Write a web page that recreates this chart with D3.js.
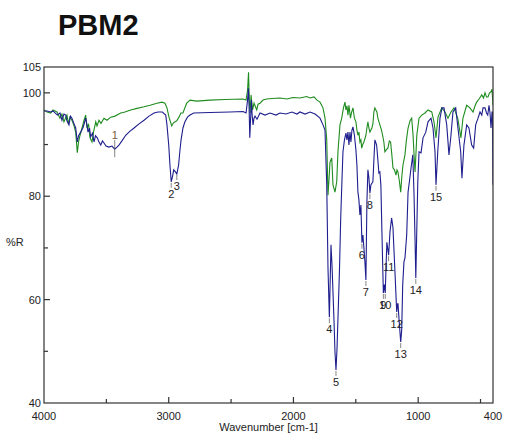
<!DOCTYPE html>
<html>
<head>
<meta charset="utf-8">
<script src="https://cdn.jsdelivr.net/npm/d3@7"></script>
<style>
  html, body { margin: 0; padding: 0; background: #fff; }
  svg { display: block; }
  text { font-family: "Liberation Sans", Arial, sans-serif; }
</style>
</head>
<body>
<svg id="chart" width="505" height="434"></svg>
<script>
// IR spectrum of sample PBM2 (reflectance, %R vs wavenumber)

// Sample spectrum (navy)
const sampleWn = [4000,3976,3946,3928,3893,3872,3856,3840,3826,3816,3800,3788,3776,3759,3746,3733,3723,3706,3685,3666,3657,3647,3635,3626,3611,3599,3587,3573,3559,3545,3531,3519,3503,3479,3455,3433,3415,3399,3375,3345,3310,3278,3238,3198,3158,3118,3086,3051,3024,3014,3000,2990,2980,2969,2960,2946,2935,2921,2910,2901,2886,2870,2850,2829,2800,2669,2509,2404,2380,2368,2361,2356,2350,2344,2337,2331,2324,2316,2308,2292,2268,2228,2188,2140,2108,2060,2012,1972,1948,1907,1867,1827,1787,1763,1747,1733,1723,1712,1707,1699,1691,1685,1675,1667,1659,1651,1643,1631,1621,1611,1603,1591,1579,1571,1563,1555,1547,1539,1531,1523,1511,1499,1491,1483,1475,1467,1459,1451,1443,1435,1427,1419,1411,1403,1395,1387,1379,1371,1363,1355,1347,1333,1323,1315,1307,1299,1291,1285,1279,1271,1264,1259,1251,1237,1226,1213,1202,1194,1186,1172,1166,1162,1154,1140,1132,1124,1114,1106,1092,1081,1069,1057,1043,1033,1025,1019,1011,1003,993,977,961,939,921,897,881,865,857,843,825,809,793,771,753,737,721,699,681,659,649,633,611,593,571,555,539,520,504,490,480,464,452,442,432,424,416,408,404,400];
const sampleR = [96.5,96.5,96.3,96.5,95.7,96.1,94.7,95.9,95.7,94.6,93.8,95.5,95.1,94.0,93.2,90.5,91.7,92.4,93.4,95.1,94.0,92.4,93.2,91.5,92.2,90.5,91.7,91.3,90.5,89.9,90.7,90.3,89.7,89.5,89.7,89.1,89.5,89.9,90.7,91.8,92.6,93.2,94.0,94.7,95.5,96.1,96.3,96.3,95.7,93.8,89.9,86.0,82.8,83.9,85.1,84.7,84.3,86.0,88.9,90.9,93.2,94.4,95.3,95.7,96.1,96.2,96.3,96.4,96.1,98.6,100.9,97.6,91.3,94.7,98.6,95.7,93.8,95.1,95.5,94.9,96.1,95.7,96.1,95.7,96.1,95.9,96.3,95.9,96.3,95.9,96.3,95.9,95.1,93.8,92.8,82.2,66.1,56.6,61.9,70.6,66.7,62.8,56.1,49.9,46.4,50.3,56.4,65.7,75.8,83.1,88.6,90.9,92.2,90.9,92.4,89.9,92.4,90.5,92.8,93.4,91.8,88.9,86.0,80.8,79.3,76.4,78.3,71.0,72.5,70.0,67.3,63.8,78.9,85.1,83.6,80.6,82.2,82.5,82.8,87.0,90.9,89.9,87.0,84.5,84.7,82.2,73.5,67.3,61.3,62.9,61.3,65.3,71.1,68.6,73.1,75.8,73.9,69.6,65.3,57.6,59.0,59.3,56.4,51.8,54.1,62.8,67.3,68.0,72.5,80.8,83.1,85.5,88.0,80.2,71.5,64.2,73.5,82.8,88.6,88.4,91.3,92.4,94.4,95.1,93.2,88.6,82.2,88.6,95.1,97.1,97.1,93.8,88.0,91.8,96.3,97.1,93.2,88.6,83.5,89.9,93.8,93.2,89.9,89.3,93.8,95.1,96.3,95.7,97.1,97.1,96.1,95.7,97.6,96.1,93.2,96.3,96.3,82.2];

// Reference spectrum (green)
const referenceWn = [4000,3976,3946,3928,3896,3872,3856,3840,3828,3816,3804,3792,3776,3759,3746,3733,3723,3711,3695,3679,3666,3655,3643,3631,3615,3603,3585,3575,3559,3543,3519,3495,3465,3431,3385,3351,3305,3254,3198,3150,3094,3054,3030,3014,2998,2976,2962,2936,2918,2902,2886,2856,2829,2776,2669,2549,2404,2380,2368,2360,2354,2348,2340,2328,2316,2294,2284,2268,2244,2214,2172,2108,2052,2004,1948,1894,1867,1835,1811,1787,1763,1747,1733,1723,1715,1707,1693,1683,1667,1653,1643,1627,1613,1599,1587,1579,1571,1563,1555,1543,1533,1523,1511,1499,1491,1483,1475,1467,1459,1453,1443,1435,1419,1411,1403,1395,1387,1371,1363,1355,1347,1339,1331,1323,1307,1294,1285,1275,1267,1255,1243,1231,1221,1211,1202,1190,1178,1170,1162,1150,1140,1130,1122,1106,1094,1081,1065,1052,1041,1033,1025,1017,1011,993,971,945,921,891,873,857,841,811,785,761,737,713,683,657,641,611,585,560,544,531,512,490,476,464,452,440,428,416,408,400];
const referenceR = [96.7,96.3,96.1,96.7,96.3,95.1,95.9,94.4,95.1,95.7,94.0,95.3,94.7,93.6,92.4,88.4,90.5,91.8,93.2,94.7,95.7,93.2,94.0,91.3,90.5,92.4,94.4,93.6,94.7,94.1,95.1,94.7,95.3,95.5,96.1,96.3,96.7,97.0,97.3,97.6,98.0,98.2,98.0,97.1,95.3,93.6,94.2,94.6,95.3,96.1,96.1,98.0,98.6,98.4,98.6,98.7,98.8,98.6,100.5,104.0,98.6,96.1,99.6,96.7,98.0,96.7,97.8,98.0,98.6,98.8,98.9,99.0,98.8,99.1,99.0,99.3,99.0,99.2,98.6,98.2,97.1,95.1,90.9,80.2,83.2,86.6,87.4,82.2,80.8,82.8,88.6,93.8,95.1,97.1,98.2,96.7,97.5,95.7,97.6,95.1,96.3,97.1,95.1,94.4,92.8,91.8,92.4,90.5,90.9,89.3,90.1,90.5,91.8,93.2,94.4,93.2,92.4,93.2,94.0,96.3,97.1,96.7,96.3,95.1,93.8,92.8,91.8,90.5,88.6,89.0,89.3,90.7,90.5,88.0,85.5,85.1,84.1,85.1,84.7,82.8,80.8,84.1,86.0,88.0,90.9,93.2,94.6,95.1,91.8,88.0,84.7,88.6,91.8,95.1,95.7,96.1,96.7,96.3,94.4,91.3,95.3,97.1,96.3,95.1,96.3,97.1,95.1,91.3,95.1,97.6,97.1,96.3,97.5,98.2,98.8,99.6,99.0,100.0,99.2,99.2,100.0,100.2,100.7,97.6];

// Numbered band positions (cm-1), marked on the sample spectrum
const bandLabels = ["1","2","3","4","5","6","7","8","9","10","11","12","13","14","15"];
const bandWn = [3433,2980,2935,1712,1659,1451,1419,1387,1279,1264,1237,1172,1140,1019,857];

// Axis ticks
const xMajorTicks = [3000, 2000, 1000];
const xMinorTicks = [3500, 2500, 1500, 500];
const xTickLabels = ["4000", "3000", "2000", "1000", "400"];
const xTickLabelValues = [4000, 3000, 2000, 1000, 400];
const yMajorTicks = [100, 80, 60];
const yMinorTicks = [90, 70, 50];
const yTickLabels = ["105", "100", "80", "60", "40"];
const yTickLabelValues = [105, 100, 80, 60, 40];

const svg = d3.select("#chart");
const plot = { left: 44, right: 493, top: 67, bottom: 403 };

const x = d3.scaleLinear().domain([4000, 400]).range([plot.left, plot.right]);
const y = d3.scaleLinear().domain([40, 105]).range([plot.bottom, plot.top]);

// Title
svg.append("text")
  .attr("x", 58).attr("y", 35)
  .attr("font-size", 29).attr("font-weight", "bold")
  .attr("fill", "#111")
  .text("PBM2");

// Spectra, clipped to the plot frame
svg.append("defs").append("clipPath").attr("id", "plotclip")
  .append("rect")
  .attr("x", plot.left).attr("y", plot.top)
  .attr("width", plot.right - plot.left).attr("height", plot.bottom - plot.top);

const line = d3.line().x(d => x(d[0])).y(d => y(d[1]));
const g = svg.append("g").attr("clip-path", "url(#plotclip)");

g.append("path")
  .datum(referenceWn.map((w, i) => [w, referenceR[i]]))
  .attr("d", line)
  .attr("fill", "none")
  .attr("stroke", "#1f8c1f")
  .attr("stroke-width", 1.1);

g.append("path")
  .datum(sampleWn.map((w, i) => [w, sampleR[i]]))
  .attr("d", line)
  .attr("fill", "none")
  .attr("stroke", "#1e1e8e")
  .attr("stroke-width", 1.1);

// Band markers: short leader line and number below each minimum (band 1 above)
function sampleAt(w) {
  let best = 0;
  sampleWn.forEach((v, i) => { if (Math.abs(v - w) < Math.abs(sampleWn[best] - w)) best = i; });
  return sampleR[best];
}
bandLabels.forEach((lab, i) => {
  const px = x(bandWn[i]);
  const py = y(sampleAt(bandWn[i]));
  const above = i === 0;
  const lg = svg.append("g");
  if (above) {
    lg.append("line").attr("x1", px).attr("x2", px)
      .attr("y1", py - 9).attr("y2", py + 8)
      .attr("stroke", "#666").attr("stroke-width", 0.8);
    lg.append("text").attr("x", px).attr("y", py - 10)
      .attr("text-anchor", "middle").attr("font-size", 11)
      .attr("fill", "#7a5a3a").text(lab);
  } else {
    lg.append("line").attr("x1", px).attr("x2", px)
      .attr("y1", py + 1).attr("y2", py + 6)
      .attr("stroke", "#666").attr("stroke-width", 0.8);
    lg.append("text").attr("x", px).attr("y", py + 16)
      .attr("text-anchor", "middle").attr("font-size", 11)
      .attr("fill", "#222").text(lab);
  }
});

// Frame
svg.append("rect")
  .attr("x", plot.left).attr("y", plot.top)
  .attr("width", plot.right - plot.left).attr("height", plot.bottom - plot.top)
  .attr("fill", "none").attr("stroke", "#333").attr("stroke-width", 1.2);

// X ticks (inward)
xMajorTicks.forEach(v => {
  svg.append("line").attr("x1", x(v)).attr("x2", x(v))
    .attr("y1", plot.bottom).attr("y2", plot.bottom - 6)
    .attr("stroke", "#333").attr("stroke-width", 1.2);
});
xMinorTicks.forEach(v => {
  svg.append("line").attr("x1", x(v)).attr("x2", x(v))
    .attr("y1", plot.bottom).attr("y2", plot.bottom - 4)
    .attr("stroke", "#333").attr("stroke-width", 1.2);
});
xTickLabels.forEach((t, i) => {
  svg.append("text").attr("x", x(xTickLabelValues[i])).attr("y", 420)
    .attr("text-anchor", "middle").attr("font-size", 11).attr("fill", "#222")
    .text(t);
});

// Y ticks (inward)
yMajorTicks.forEach(v => {
  svg.append("line").attr("x1", plot.left).attr("x2", plot.left + 6)
    .attr("y1", y(v)).attr("y2", y(v))
    .attr("stroke", "#333").attr("stroke-width", 1.2);
});
yMinorTicks.forEach(v => {
  svg.append("line").attr("x1", plot.left).attr("x2", plot.left + 4)
    .attr("y1", y(v)).attr("y2", y(v))
    .attr("stroke", "#333").attr("stroke-width", 1.2);
});
yTickLabels.forEach((t, i) => {
  svg.append("text").attr("x", 41).attr("y", y(yTickLabelValues[i]) + 4)
    .attr("text-anchor", "end").attr("font-size", 11).attr("fill", "#222")
    .text(t);
});

// Axis titles
svg.append("text").attr("x", (plot.left + plot.right) / 2).attr("y", 431)
  .attr("text-anchor", "middle").attr("font-size", 11).attr("fill", "#222")
  .text("Wavenumber [cm-1]");
svg.append("text").attr("x", 6).attr("y", 246)
  .attr("font-size", 11).attr("fill", "#222")
  .text("%R");
</script>
</body>
</html>
